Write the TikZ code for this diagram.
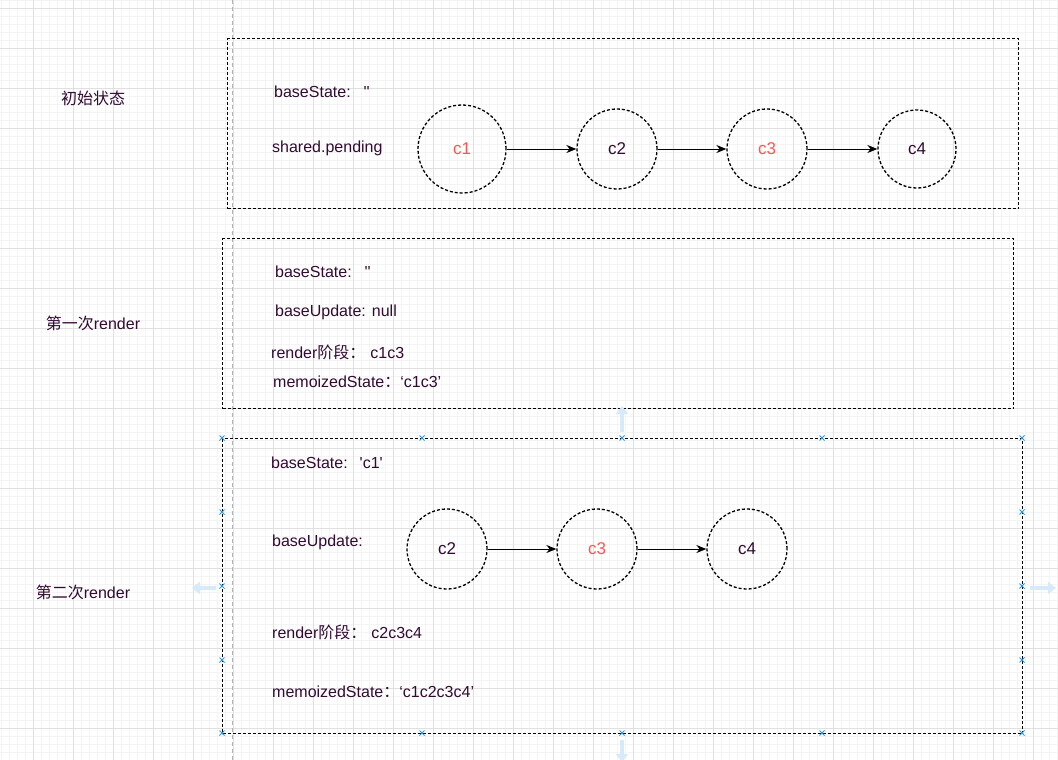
\documentclass[tikz,border=0pt]{standalone}
\usepackage{fontspec}
\newfontfamily\lsans{Liberation Sans}
\newfontfamily\cjk{Noto Sans CJK SC}
\usetikzlibrary{arrows.meta}
\definecolor{txt}{RGB}{50,10,50}
\definecolor{redtxt}{RGB}{255,85,85}
\definecolor{gridminor}{RGB}{244,244,244}
\definecolor{gridmajor}{RGB}{224,224,224}
\definecolor{handle}{RGB}{41,150,230}
\definecolor{ghost}{RGB}{214,234,250}
\tikzset{
  box/.style={draw=black, dashed, dash pattern=on 3pt off 2pt, line width=1.4pt, anchor=north west, inner sep=0pt},
  circ/.style={circle, draw=black, dashed, dash pattern=on 3pt off 2pt, line width=1.3pt, minimum size=80pt, inner sep=0pt, font=\lsans\fontsize{17}{20}\selectfont, text=txt},
  redc/.style={circ, text=redtxt},
  lbl/.style={anchor=west, inner sep=0pt, font=\lsans\fontsize{16}{19}\selectfont, text=txt},
  side/.style={anchor=center, inner sep=0pt, font=\lsans\fontsize{16}{19}\selectfont, text=txt},
  link/.style={draw=black, line width=1pt, -{Stealth[length=10pt,width=8pt]}},
  hmark/.style={draw=handle, line width=0.8pt},
  ghostarrow/.style={draw=ghost, line width=4pt, -{Triangle[length=8pt,width=12pt]}}
}
\begin{document}
\begin{tikzpicture}[x=1pt,y=-1pt]
\useasboundingbox (0,0) rectangle (1058,760);
\fill[white] (0,0) rectangle (1058,760);
% grid
\foreach \x in {1,9,...,1057} \draw[gridminor, line width=0.6pt] (\x,0) -- (\x,760);
\foreach \y in {0,8,...,760} \draw[gridminor, line width=0.6pt] (0,\y) -- (1058,\y);
\foreach \x in {33,73,...,1057} \draw[gridmajor, line width=0.8pt] (\x,0) -- (\x,760);
\foreach \y in {8,48,...,760} \draw[gridmajor, line width=0.8pt] (0,\y) -- (1058,\y);
\draw[gray!60, dashed, dash pattern=on 4pt off 3pt, line width=0.6pt] (232,0) -- (232,760);

% boxes
\node (b1) [box, minimum width=791pt, minimum height=170pt] at (227,38) {};
\node (b2) [box, minimum width=791pt, minimum height=170pt] at (222,238) {};
\node (b3) [box, minimum width=800pt, minimum height=295pt] at (222,438) {};

% side labels
\node (l1) [side] at (93,98) {\cjk 初始状态};
\node (l2) [side] at (93,323) {{\cjk 第一次}render};
\node (l3) [side] at (83,592) {{\cjk 第二次}render};

% box 1
\node (t11) [lbl] at (274,92) {baseState:\hspace{13pt}''};
\node (t12) [lbl] at (272,148) {shared.pending};
\node (a1) [redc, minimum size=88pt] at (462,149) {c1};
\node (a2) [circ] at (617,149) {c2};
\node (a3) [redc] at (767,149) {c3};
\node (a4) [circ, minimum size=78pt] at (917,149) {c4};
\draw[link] (a1) -- (a2);
\draw[link] (a2) -- (a3);
\draw[link] (a3) -- (a4);

% box 2
\node (t21) [lbl] at (275,272) {baseState:\hspace{13pt}''};
\node (t22) [lbl] at (275,312) {baseUpdate:\hspace{6pt}null};
\node (t23) [lbl] at (271,352) {render{\cjk 阶段：}\hspace{5pt}c1c3};
\node (t24) [lbl] at (273,382) {memoizedState{\cjk ：}‘c1c3’};

% box 3
\node (t31) [lbl] at (271,463) {baseState:\hspace{12pt}'c1'};
\node (t32) [lbl] at (272,542) {baseUpdate:};
\node (d2) [circ] at (447,549) {c2};
\node (d3) [redc] at (597,549) {c3};
\node (d4) [circ] at (747,549) {c4};
\draw[link] (d2) -- (d3);
\draw[link] (d3) -- (d4);
\node (t33) [lbl] at (272,632) {render{\cjk 阶段：}\hspace{5pt}c2c3c4};
\node (t34) [lbl] at (272,692) {memoizedState{\cjk ：}‘c1c2c3c4’};

% selection handles
\foreach \p in {(222,438),(422,438),(622,438),(822,438),(1022,438),
                (222,512),(222,586),(222,660),(222,733),
                (422,733),(622,733),(822,733),(1022,733),
                (1022,512),(1022,586),(1022,660)}
  \draw[hmark] \p ++(-2.5,-2.5) -- ++(5,5) \p ++(-2.5,2.5) -- ++(5,-5);
\coordinate (gu0) at (622,432); \coordinate (gu1) at (622,406);
\coordinate (gd0) at (622,740); \coordinate (gd1) at (622,762);
\coordinate (gl0) at (216,588); \coordinate (gl1) at (192,588);
\coordinate (gr0) at (1030,588); \coordinate (gr1) at (1056,588);
\draw[ghostarrow] (gu0) -- (gu1);
\draw[ghostarrow] (gd0) -- (gd1);
\draw[ghostarrow] (gl0) -- (gl1);
\draw[ghostarrow] (gr0) -- (gr1);
\end{tikzpicture}
\end{document}
